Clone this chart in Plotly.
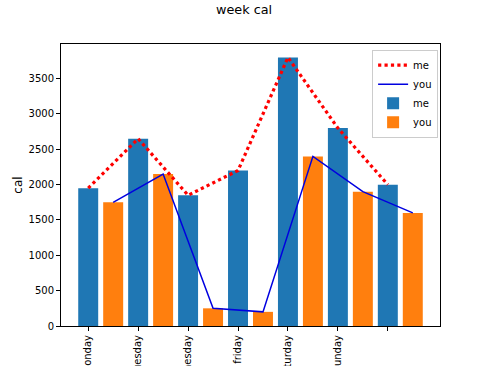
import plotly.graph_objects as go

days = ["monday", "tuesday", "wednesday", "friday", "saturday", "sunday", ""]
me = [1950, 2650, 1850, 2200, 3800, 2800, 2000]
you = [1750, 2150, 250, 200, 2400, 1900, 1600]
xpos = list(range(len(me)))
you_offset = 0.5
xpos_you = [i + you_offset for i in xpos]

FONT = "DejaVu Sans"
fig = go.Figure()
fig.add_trace(go.Scatter(x=xpos, y=me, mode="lines", name="me",
                         line=dict(color="red", width=3.2, dash="dot")))
fig.add_trace(go.Scatter(x=xpos_you, y=you, mode="lines", name="you",
                         line=dict(color="#0000e0", width=1.5)))
fig.add_trace(go.Bar(x=xpos, y=me, name="me", width=0.4, marker=dict(color="#1f77b4", line=dict(width=0))))
fig.add_trace(go.Bar(x=xpos_you, y=you, name="you", width=0.4, marker=dict(color="#ff7f0e", line=dict(width=0))))

fig.update_layout(
    width=488, height=366,
    margin=dict(l=61, r=48, t=44, b=40),
    plot_bgcolor="white", paper_bgcolor="white",
    font=dict(family=FONT, size=10, color="black"),
    title=dict(text="week cal", x=0.5, xanchor="center", y=0.985, yanchor="top",
               font=dict(size=12.8)),
    barmode="overlay",
    showlegend=True,
    legend=dict(x=0.995, y=0.98, xanchor="right", yanchor="top",
                bgcolor="white", bordercolor="#cccccc", borderwidth=1,
                font=dict(size=10), traceorder="normal", tracegroupgap=0,
                itemwidth=30),
    xaxis=dict(range=[-0.545, 7.045], tickmode="array", tickvals=xpos, ticktext=days,
               tickangle=-90, showgrid=False, zeroline=False, showline=True, mirror=True,
               linecolor="black", linewidth=1, ticks="outside", ticklen=4, tickcolor="black",
               automargin=False),
    yaxis=dict(range=[0, 3990], tickmode="array", tickvals=[0, 500, 1000, 1500, 2000, 2500, 3000, 3500],
               showgrid=False, zeroline=False, showline=True, mirror=True,
               linecolor="black", linewidth=1, ticks="outside", ticklen=4, tickcolor="black",
               title=dict(text="cal", standoff=3), automargin=False),
)

fig.write_html("out.html", config={"displayModeBar": False},
               post_script="document.body.style.margin='0';document.body.style.overflow='hidden';")
